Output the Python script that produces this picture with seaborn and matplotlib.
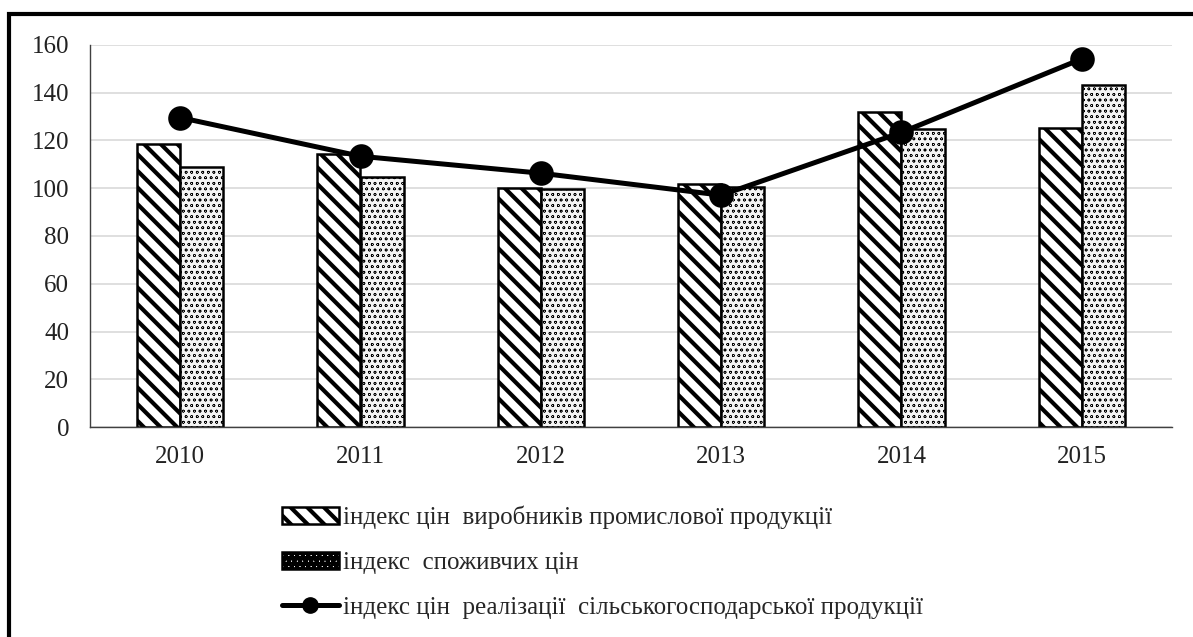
import matplotlib
matplotlib.use("Agg")
import matplotlib.pyplot as plt
import seaborn as sns
import pandas as pd
from matplotlib.patches import Patch, Rectangle
from matplotlib.lines import Line2D

# values
years = ["2010", "2011", "2012", "2013", "2014", "2015"]
producer_idx = [118.7, 114.2, 100.3, 101.7, 131.8, 125.4]
consumer_idx = [109.1, 104.6, 99.8, 100.5, 124.9, 143.3]
agri_idx = [129.6, 113.4, 106.3, 97.1, 123.4, 154.2]

label_prod = "індекс цін  виробників промислової продукції"
label_cons = "індекс  споживчих цін"
label_agri = "індекс цін  реалізації  сільськогосподарської продукції"
yticks = [0, 20, 40, 60, 80, 100, 120, 140, 160]

STRIPE = "\\\\"
DOTS = "ooo"

sns.set_theme(style="white")
plt.rcParams["font.family"] = ["Liberation Serif", "DejaVu Serif"]
plt.rcParams["hatch.linewidth"] = 3.0

df = pd.DataFrame({
    "year": years * 2,
    "value": producer_idx + consumer_idx,
    "series": [label_prod] * 6 + [label_cons] * 6,
})

fig = plt.figure(figsize=(11.93, 6.37), dpi=100)
ax = fig.add_axes([90 / 1193, 1 - 427 / 637, 1082 / 1193, 382 / 637])

sns.barplot(data=df, x="year", y="value", hue="series", order=years,
            hue_order=[label_prod, label_cons], width=0.48, ax=ax,
            palette=["white", "#f4f4f4"], edgecolor="black", linewidth=1.8,
            errorbar=None, legend=False)

# hatch patterns: first hue gets diagonal stripes, second a fine dot texture
for i, p in enumerate(ax.patches):
    if i < 6:
        p.set_hatch(STRIPE)
        if hasattr(p, "set_hatch_linewidth"):
            p.set_hatch_linewidth(3.0)
    else:
        p.set_hatch(DOTS)
        if hasattr(p, "set_hatch_linewidth"):
            p.set_hatch_linewidth(0.4)

sns.pointplot(x=years, y=agri_idx, color="black", markers="o",
              markersize=15, linewidth=3.6, ax=ax, errorbar=None)

ax.set_ylim(0, 160)
ax.set_xlim(-0.5, 5.5)
ax.set_yticks(yticks)
ax.set_xlabel("")
ax.set_ylabel("")
ax.yaxis.grid(True, color="#d9d9d9", linewidth=1.2)
ax.set_axisbelow(True)
for s in ["top", "right"]:
    ax.spines[s].set_visible(False)
for s in ["left", "bottom"]:
    ax.spines[s].set_color("#404040")
    ax.spines[s].set_linewidth(1.0)
ax.tick_params(axis="both", length=0, labelsize=18, colors="#222222")
ax.tick_params(axis="y", pad=15)
ax.tick_params(axis="x", pad=14)

h_prod = Patch(facecolor="white", edgecolor="black", hatch=STRIPE, linewidth=1.8)
h_cons = Patch(facecolor="#f4f4f4", edgecolor="black", hatch=DOTS, linewidth=1.8)
if hasattr(h_prod, "set_hatch_linewidth"):
    h_prod.set_hatch_linewidth(3.0)
    h_cons.set_hatch_linewidth(0.4)
h_agri = Line2D([], [], color="black", linewidth=3.6, marker="o", markersize=11)

fig.legend(handles=[h_prod, h_cons, h_agri],
           labels=[label_prod, label_cons, label_agri],
           loc="upper left", bbox_to_anchor=(269 / 1193, 1 - 493 / 637),
           frameon=False, fontsize=18, handlelength=2.3, handletextpad=0.15,
           labelspacing=0.9, borderpad=0)

# outer frame (left and top edges visible in the crop)
fig.patches.append(Rectangle((9 / 1193, -0.1), 1.2, 1 - 14 / 637 + 0.1,
                             transform=fig.transFigure, fill=False,
                             edgecolor="black", linewidth=3, zorder=10))

fig.savefig("out.png", dpi=100, facecolor="white")
